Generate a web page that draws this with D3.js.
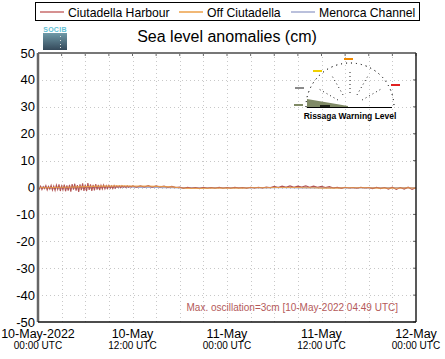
<!DOCTYPE html>
<html><head><meta charset="utf-8">
<script src="https://cdn.jsdelivr.net/npm/d3@7"></script>
<style>body{margin:0;background:#fff}svg{display:block;font-family:"Liberation Sans",Arial,sans-serif}</style>
</head><body>
<script>
// ---- data ----
const seriesNames = ["Ciutadella Harbour", "Off Ciutadella", "Menorca Channel"];
const seriesColors = ["#c86c6c", "#eda048", "#a3abd0"];
const startHour = 0, endHour = 48;
// Ciutadella Harbour: 10-minute samples for 0-12 h, then 30-minute samples for 12-48 h
const harbourEarlyStep = 1 / 6;
const harbourEarly = [0.2,-0.6,0.5,-0.8,0.3,-0.4,0.7,-0.9,0.4,-0.6,0.8,-1.0,0.5,
  -1.1,0.9,-0.7,1.2,-1.3,0.6,-0.9,1.1,-1.4,0.8,-1.2,1.0,
  -1.5,1.3,-0.8,1.4,-1.2,0.9,-1.6,1.2,-1.0,1.5,-1.3,1.1,
  -1.4,1.6,-0.9,1.2,-1.3,1.0,-1.1,1.3,-0.8,1.0,-1.0,0.8,
  -0.6,0.9,-0.5,0.7,-0.4,0.8,-0.3,0.6,-0.4,0.7,-0.2,0.6,
  0.0,0.6,-0.1,0.7,0.1,0.5,0.0,0.6,0.1,0.5,0.2,0.6];
const harbourLateStart = 12, harbourLateStep = 0.5;
const harbourLate = [0.7,0.1,0.6,0.2,0.7,0.1,0.6,0.2,0.5,0.1,0.4,0.0,0.2,-0.3,0.1,-0.3,0.0,-0.4,0.1,-0.3,0.0,-0.3,0.1,-0.3,0.0,-0.3,0.1,-0.2,0.0,-0.3,0.1,-0.2,0.1,-0.2,0.2,-0.1,0.4,0.0,0.5,0.1,0.6,0.1,0.5,0.2,0.6,0.1,0.5,0.1,0.4,0.0,0.3,-0.2,0.1,-0.3,0.1,-0.2,0.0,-0.3,0.1,-0.2,0.0,-0.4,0.1,-0.4,0.0,-0.6,0.1,-0.7,0.0,-0.6,0.1,-0.7,-0.1];
const offStep = 1;
const offValues = [0.0,-0.1,0.0,0.1,0.1,0.2,0.3,0.4,0.5,0.5,0.6,0.6,0.5,0.5,0.5,0.4,0.3,0.2,-0.1,-0.3,-0.3,-0.3,-0.2,-0.2,-0.2,-0.2,-0.2,-0.1,-0.1,-0.1,0.0,0.0,0.0,0.0,-0.1,-0.1,-0.2,-0.2,-0.2,-0.1,-0.1,-0.1,-0.1,-0.2,-0.2,-0.2,-0.2,-0.1,-0.2];
const channelStep = 1;
const channelValues = [0.0,0.0,-0.1,0.0,0.0,0.1,0.1,0.1,0.2,0.2,0.2,0.2,0.2,0.1,0.1,0.1,0.0,0.0,-0.1,-0.1,-0.1,-0.1,-0.1,-0.1,-0.1,-0.1,-0.1,-0.1,-0.1,-0.1,0.0,0.0,0.0,-0.1,-0.1,-0.1,-0.1,-0.1,-0.1,-0.1,-0.1,-0.1,-0.1,-0.1,-0.1,-0.1,-0.1,-0.1,-0.1];
const yTicks = [50,40,30,20,10,0,-10,-20,-30,-40,-50];
const xMajorHours = [0,12,24,36,48];
const xDateLabels = ["10-May-2022","10-May","11-May","11-May","12-May"];
const xTimeLabels = ["00:00 UTC","12:00 UTC","00:00 UTC","12:00 UTC","00:00 UTC"];
const xMinorHours = [0,3,6,9,12,15,18,21,24,27,30,33,36,39,42,45,48];
const title = "Sea level anomalies (cm)";
const maxOscText = "Max. oscillation=3cm [10-May-2022 04:49 UTC]";

// ---- layout ----
const W = 445, H = 359;
const L = 38, R = 416, T = 53, B = 322;
const svg = d3.select("body").append("svg").attr("width", W).attr("height", H);
const x = d3.scaleLinear().domain([startHour, endHour]).range([L, R]);
const y = d3.scaleLinear().domain([-50, 50]).range([B, T]);

// grid
svg.append("g").selectAll("line").data(xMinorHours.slice(1, -1)).join("line")
  .attr("x1", d => Math.round(x(d)) + 0.5).attr("x2", d => Math.round(x(d)) + 0.5).attr("y1", T).attr("y2", B)
  .attr("stroke", "#c8c8c8").attr("stroke-width", 1).attr("stroke-dasharray", "1,3");
svg.append("g").selectAll("line").data(yTicks.filter(d => d !== 50 && d !== -50)).join("line")
  .attr("x1", L).attr("x2", R).attr("y1", d => Math.round(y(d)) + 0.5).attr("y2", d => Math.round(y(d)) + 0.5)
  .attr("stroke", "#c8c8c8").attr("stroke-width", 1).attr("stroke-dasharray", "1,3");

// ticks on top and right
svg.append("g").selectAll("line").data(xMinorHours).join("line")
  .attr("x1", d => x(d)).attr("x2", d => x(d)).attr("y1", T).attr("y2", T + 3)
  .attr("stroke", "#666");
svg.append("g").selectAll("line").data(yTicks).join("line")
  .attr("x1", R - 3).attr("x2", R).attr("y1", d => y(d)).attr("y2", d => y(d))
  .attr("stroke", "#666");

// series
const line = d3.line().x(d => x(d[0])).y(d => y(d[1]));
const chan = channelValues.map((v, i) => [startHour + i * channelStep, v]);
const off = offValues.map((v, i) => [startHour + i * offStep, v]);
const harb = harbourEarly.map((v, i) => [startHour + i * harbourEarlyStep, v])
  .concat(harbourLate.slice(1).map((v, i) => [harbourLateStart + (i + 1) * harbourLateStep, v]));
svg.append("path").datum(chan).attr("d", line).attr("fill", "none").attr("stroke", seriesColors[2]).attr("stroke-width", 1.6);
svg.append("path").datum(harb).attr("d", line).attr("fill", "none").attr("stroke", "#b25454").attr("stroke-width", 1.1);
svg.append("path").datum(off).attr("d", line).attr("fill", "none").attr("stroke", seriesColors[1]).attr("stroke-width", 1.2).attr("opacity", 0.85);

// frame
svg.append("line").attr("x1", L).attr("x2", R).attr("y1", T).attr("y2", T).attr("stroke", "#777").attr("stroke-width", 2);
svg.append("line").attr("x1", R).attr("x2", R).attr("y1", T).attr("y2", B).attr("stroke", "#222").attr("stroke-width", 1.5);
svg.append("line").attr("x1", L).attr("x2", L).attr("y1", T).attr("y2", B).attr("stroke", "#666").attr("stroke-width", 2.5);
svg.append("line").attr("x1", L).attr("x2", R).attr("y1", B).attr("y2", B).attr("stroke", "#111").attr("stroke-width", 1.5);

// y labels
svg.append("g").selectAll("text").data(yTicks).join("text")
  .attr("x", L - 3).attr("y", d => y(d) + 4.5).attr("text-anchor", "end")
  .attr("font-size", 13).attr("fill", "#000").text(d => d);

// x labels
svg.append("g").selectAll("text").data(xMajorHours).join("text")
  .attr("x", d => x(d)).attr("y", 337.5).attr("text-anchor", "middle")
  .attr("font-size", 12.5).attr("fill", "#000").text((d, i) => xDateLabels[i]);
svg.append("g").selectAll("text").data(xMajorHours).join("text")
  .attr("x", d => x(d)).attr("y", 349).attr("text-anchor", "middle")
  .attr("font-size", 10).attr("fill", "#000").text((d, i) => xTimeLabels[i]);

// max oscillation
svg.append("text").attr("x", 398).attr("y", 311).attr("text-anchor", "end")
  .attr("font-size", 10).attr("fill", "#b45a5a").text(maxOscText);

// title
svg.append("text").attr("x", 227).attr("y", 42).attr("text-anchor", "middle")
  .attr("font-size", 16).attr("fill", "#000").text(title);

// legend
const lg = svg.append("g");
lg.append("rect").attr("x", 35.5).attr("y", 2.5).attr("width", 384).attr("height", 18)
  .attr("fill", "#fff").attr("stroke", "#000").attr("stroke-width", 1);
const legX = [40, 179, 291];
seriesNames.forEach((n, i) => {
  lg.append("line").attr("x1", legX[i]).attr("x2", legX[i] + 24).attr("y1", 12).attr("y2", 12)
    .attr("stroke", seriesColors[i]).attr("stroke-width", 1.5);
  lg.append("text").attr("x", legX[i] + 28).attr("y", 16.5).attr("font-size", 12.2).attr("fill", "#000").text(n);
});

// SOCIB logo
const defs = svg.append("defs");
const gr = defs.append("linearGradient").attr("id", "lg1").attr("x1", 0).attr("x2", 0).attr("y1", 0).attr("y2", 1);
gr.append("stop").attr("offset", "0%").attr("stop-color", "#6f9aa8");
gr.append("stop").attr("offset", "100%").attr("stop-color", "#34495a");
svg.append("rect").attr("x", 43).attr("y", 33).attr("width", 24).attr("height", 17).attr("fill", "url(#lg1)");
svg.append("text").attr("x", 55).attr("y", 32).attr("text-anchor", "middle").attr("font-size", 7)
  .attr("font-weight", "bold").attr("fill", "#62c0d4").attr("letter-spacing", 0.3).text("SOCIB");
[36, 40, 44, 47].forEach(yy => svg.append("rect").attr("x", 60).attr("y", yy).attr("width", 1).attr("height", 1).attr("fill", "#ddd"));

// Rissaga warning gauge (inset)
const gz = svg.append("g");
const cx = 350, cy = 107;
const arc1 = d3.arc()({innerRadius: 44, outerRadius: 44, startAngle: -Math.PI / 2, endAngle: Math.PI / 2});
gz.append("path").attr("d", arc1).attr("transform", `translate(${cx},${cy})`)
  .attr("fill", "none").attr("stroke", "#333").attr("stroke-width", 1).attr("stroke-dasharray", "1,4");
[-60, -30, 0, 30, 60].forEach(a => {
  const r = a * Math.PI / 180;
  gz.append("line").attr("x1", cx + 14 * Math.sin(r)).attr("y1", cy - 14 * Math.cos(r))
    .attr("x2", cx + 38 * Math.sin(r)).attr("y2", cy - 38 * Math.cos(r))
    .attr("stroke", "#222").attr("stroke-width", 1).attr("stroke-dasharray", "1,3");
});
gz.append("path").attr("d", `M307,107 L307,99 L348,106 L348,107 Z`).attr("fill", "#808a66");
gz.append("line").attr("x1", 307).attr("x2", 392).attr("y1", 107.5).attr("y2", 107.5).attr("stroke", "#000").attr("stroke-width", 1);
gz.append("line").attr("x1", 320).attr("x2", 330).attr("y1", 106).attr("y2", 106).attr("stroke", "#000").attr("stroke-width", 1.5);
const smallLabels = [[349, 59, "#f08a00"], [318, 71, "#f0d000"], [300, 88, "#8a8a8a"], [396, 85, "#e02020"], [299, 105, "#808a66"]];
smallLabels.forEach(s => gz.append("rect").attr("x", s[0] - 5).attr("y", s[1] - 1).attr("width", 9).attr("height", 2).attr("fill", s[2]));
gz.append("text").attr("x", 350).attr("y", 119).attr("text-anchor", "middle").attr("font-size", 8.5)
  .attr("font-weight", "bold").attr("fill", "#000").text("Rissaga Warning Level");
</script>
</body></html>
